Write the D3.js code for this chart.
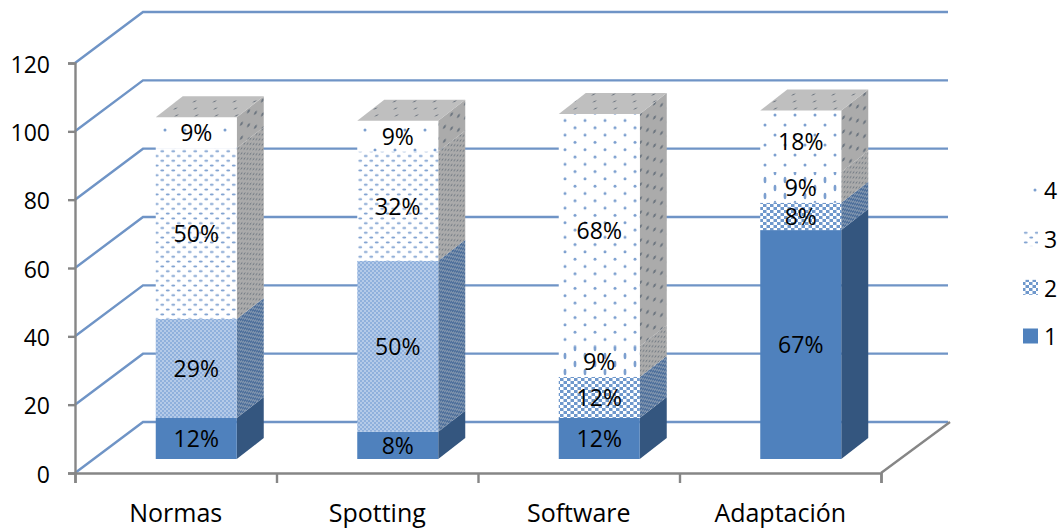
<!DOCTYPE html>
<html>
<head>
<meta charset="utf-8">
<script src="https://cdn.jsdelivr.net/npm/d3@7"></script>
<style>
  html, body { margin: 0; padding: 0; background: #fff; overflow: hidden; }
  svg { display: block; }
  text { font-family: "Open Sans", sans-serif; fill: #000; }
  .soft { filter: blur(0.45px); }
</style>
</head>
<body>
<div id="chart"></div>
<script>
const categories = ["Normas", "Spotting", "Software", "Adaptación"];
const seriesNames = ["1", "2", "3", "4"];
const serie1 = [12, 8, 12, 67];
const serie2 = [29, 50, 12, 8];
const serie3 = [50, 32, 9, 9];
const serie4 = [9, 9, 68, 18];
const yTicks = [0, 20, 40, 60, 80, 100, 120];

const W = 1062, H = 531;
const x0 = 75, x1 = 881, yBase = 473, yTop = 63;
const wallDx = 68, wallDy = 51;       // depth of the floor
const barDx = 27, barDy = 21;         // depth of a column
const barW = 81, barShift = 20.5, barLift = 14;

const table = categories.map((c, i) => ({
  cat: c, "1": serie1[i], "2": serie2[i], "3": serie3[i], "4": serie4[i]
}));
const stacked = d3.stack().keys(seriesNames)(table);

const x = d3.scaleBand().domain(categories).range([x0, x1]);
const xEdges = d3.scaleLinear().domain([0, categories.length]).range([x0, x1]);
const y = d3.scaleLinear().domain([0, 120]).range([yBase, yTop]);

const svg = d3.select("#chart").append("svg").attr("width", W).attr("height", H);
const defs = svg.append("defs");

const gridColor = "#6f94c6";
const axisColor = "#868686";

// back wall and left wall gridlines
const grid = svg.append("g").attr("class", "soft").attr("fill", "none").attr("stroke", gridColor).attr("stroke-width", 2.4);
yTicks.forEach(t => {
  const px = y(t);
  grid.append("path").attr("d", `M${x0},${px}L${x0 + wallDx},${px - wallDy}L${x1 + wallDx - 1},${px - wallDy}`);
});

// floor edge
svg.append("path")
  .attr("class", "soft")
  .attr("fill", "none").attr("stroke", axisColor).attr("stroke-width", 2.4)
  .attr("d", `M${x1},${yBase}L${x1 + wallDx + 1},${yBase - wallDy}`);

// axes
const yAxis = svg.append("g")
  .attr("transform", `translate(${x0},0)`)
  .call(d3.axisLeft(y).tickValues(yTicks).tickSize(7).tickPadding(18));
yAxis.selectAll("text").style("font-size", "23px").attr("dy", "0.4em");

const xAxis = svg.append("g")
  .attr("transform", `translate(0,${yBase})`)
  .call(d3.axisBottom(xEdges).ticks(categories.length).tickSize(10).tickFormat(""));

svg.append("g")
  .attr("transform", `translate(0,${yBase})`)
  .call(d3.axisBottom(x).tickSize(0).tickPadding(31))
  .call(g => g.select(".domain").remove())
  .selectAll("text").style("font-size", "25px");

[yAxis, xAxis].forEach(a => {
  a.selectAll("path, line").attr("stroke", axisColor).attr("stroke-width", 2.4);
});

// textures: the tile gets coarser as the segment gets shorter, the way the stretched fill does
function makeTile(id, key, h, face) {
  const bg = { front: "#ffffff", side: "#ababab", top: "#bfbfbf" }[face];
  const transform = face === "side" ? `skewY(${-Math.atan(barDy / barDx) * 180 / Math.PI})`
    : face === "top" ? `skewX(${-Math.atan(barDx / barDy) * 180 / Math.PI})` : null;
  let tw, th;
  if (key === "2") {
    const fine = h > 60;
    tw = fine ? 4 : 7; th = fine ? 4 : 6;
    if (face === "side") { tw = 4; th = 4; }
    const p = defs.append("pattern").attr("id", id).attr("patternUnits", "userSpaceOnUse")
      .attr("width", tw).attr("height", th).attr("patternTransform", transform);
    const base = face === "side" ? "#4d6f9b" : fine ? "#b4cae8" : "#ffffff";
    const ink = face === "side" ? "#7e93ad" : fine ? "#8fb0dc" : "#6f98cc";
    p.append("rect").attr("width", tw).attr("height", th).attr("fill", base);
    p.append("rect").attr("width", tw / 2).attr("height", th / 2).attr("fill", ink);
    p.append("rect").attr("x", tw / 2).attr("y", th / 2).attr("width", tw / 2).attr("height", th / 2).attr("fill", ink);
    return;
  }
  if (key === "3") {
    const coarse = h < 60;
    tw = coarse ? 20 : 11; th = coarse ? 16 : 9.6;
  } else {
    tw = 20; th = h < 40 ? 40 : h < 100 ? 20 : 14.6;
  }
  if (face === "side") { tw = key === "3" ? 6 : 14; th = key === "3" ? 5 : 14; }
  if (face === "top") { tw = 20; th = 14; }
  const ink = face === "front" ? "#7c9fcf" : "#6d7680";
  let rx = 1.5, ry = 1.5;
  if (key === "3") { rx = th > 12 ? 1.4 : 2; ry = th > 12 ? 3.2 : 1; }
  if (face === "side" && key === "3") { rx = 1.1; ry = 0.8; }
  if (face === "top") { rx = 1; ry = 1; }
  const p = defs.append("pattern").attr("id", id).attr("patternUnits", "userSpaceOnUse")
    .attr("width", tw).attr("height", th).attr("patternTransform", transform);
  p.append("rect").attr("width", tw).attr("height", th).attr("fill", bg);
  [[tw / 4, th / 4], [tw * 3 / 4, th * 3 / 4]].forEach(([cx, cy]) => {
    p.append("ellipse").attr("cx", cx).attr("cy", cy).attr("rx", rx).attr("ry", ry).attr("fill", ink);
  });
}

const sideSolid = "#34567f";
const frontSolid = "#4f81bd";

// columns, left to right, bottom segment first
const bars = svg.append("g");
categories.forEach((cat, i) => {
  const left = x(cat) + x.bandwidth() / 2 + barShift - barW / 2;
  const right = left + barW;
  const g = bars.append("g");
  const shapes = g.append("g").attr("class", "soft");

  stacked.forEach(layer => {
    const key = layer.key;
    const yA = y(layer[i][0]) - barLift;
    const yB = y(layer[i][1]) - barLift;
    const h = yA - yB;
    let frontFill = frontSolid, sideFill = sideSolid;
    if (key !== "1") {
      const fid = `f${key}-${i}`, sid = `s${key}-${i}`;
      makeTile(fid, key, h, "front");
      makeTile(sid, key, h, "side");
      frontFill = `url(#${fid})`;
      sideFill = `url(#${sid})`;
    }
    shapes.append("path")
      .attr("d", `M${right},${yA}L${right + barDx},${yA - barDy}L${right + barDx},${yB - barDy}L${right},${yB}Z`)
      .attr("fill", sideFill);
    shapes.append("rect")
      .attr("x", left).attr("y", yB).attr("width", barW).attr("height", h)
      .attr("fill", frontFill);
  });

  // top face takes the texture of the last series
  const last = stacked[stacked.length - 1][i][1];
  const yT = y(last) - barLift;
  const tid = `t-${i}`;
  makeTile(tid, "4", 100, "top");
  shapes.append("path")
    .attr("d", `M${left},${yT}L${left + barDx},${yT - barDy}L${right + barDx},${yT - barDy}L${right},${yT}Z`)
    .attr("fill", `url(#${tid})`);

  stacked.forEach(layer => {
    const mid = (y(layer[i][0]) + y(layer[i][1])) / 2 - barLift;
    g.append("text")
      .attr("x", (left + right) / 2)
      .attr("y", mid)
      .attr("dy", "0.38em")
      .attr("text-anchor", "middle")
      .style("font-size", "23px")
      .text(`${layer[i][1] - layer[i][0]}%`);
  });
});

// legend
const legendY = d3.scalePoint().domain(seriesNames.slice().reverse()).range([190, 336]);
const legend = svg.append("g");
seriesNames.forEach(key => {
  const ly = legendY(key);
  let fill = frontSolid;
  if (key === "2") { makeTile("lg2", "2", 10, "front"); fill = "url(#lg2)"; }
  if (key === "3") { makeTile("lg3", "3", 100, "front"); fill = "url(#lg3)"; }
  if (key === "4") { makeTile("lg4", "4", 30, "front"); fill = "url(#lg4)"; }
  legend.append("rect")
    .attr("x", 1023).attr("y", ly - 7.5).attr("width", 15).attr("height", 15)
    .attr("fill", fill);
  legend.append("text")
    .attr("x", 1044).attr("y", ly)
    .attr("dy", "0.4em")
    .style("font-size", "23px")
    .text(key);
});
</script>
</body>
</html>
